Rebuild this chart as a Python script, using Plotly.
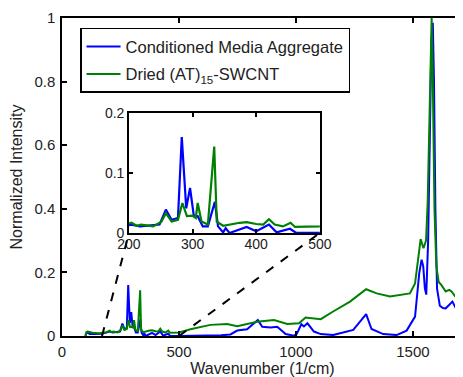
import plotly.graph_objects as go

# ---------------- data ----------------
blue_x = [100, 104, 110, 118, 140, 170, 204, 217, 248, 258, 267, 277, 283, 290, 296, 302, 308, 316,
          324, 335, 340, 348, 352, 358, 385, 400, 420, 432, 453, 463, 500, 600, 680, 720, 749, 791,
          837, 856, 891, 920, 956, 991, 1003, 1023, 1034, 1049, 1077, 1106, 1159, 1245, 1281, 1300,
          1323, 1373, 1430, 1473, 1509, 1527, 1537, 1544, 1551, 1557, 1565, 1572, 1579, 1585, 1590,
          1596, 1603, 1615, 1628, 1640, 1648, 1669, 1685, 1700, 1714]
blue_y = [0.0, 0.008, 0.012, 0.006, 0.006, 0.007, 0.014, 0.011, 0.014, 0.039, 0.022, 0.025, 0.16,
          0.041, 0.075, 0.028, 0.028, 0.011, 0.011, 0.052, 0.011, 0.001, 0.008, 0.0, 0.01, 0.003,
          0.014, 0.001, 0.007, 0.0, 0.0, 0.001, 0.002, 0.005, 0.017, 0.021, 0.05, 0.029, 0.027,
          0.029, 0.006, 0.001, 0.006, 0.037, 0.03, 0.04, 0.014, 0.006, 0.003, 0.019, 0.05, 0.069,
          0.022, 0.006, 0.003, 0.017, 0.061, 0.198, 0.24, 0.22, 0.15, 0.13, 0.3, 0.6, 0.93, 0.985,
          0.8, 0.4, 0.15, 0.095, 0.088, 0.087, 0.093, 0.108, 0.085, 0.072, 0.061]

green_x = [100, 104, 110, 130, 160, 190, 204, 212, 219, 238, 251, 258, 267, 277, 284, 291, 300, 305,
           308, 314, 324, 334, 338, 348, 374, 385, 400, 411, 420, 429, 442, 454, 461, 484, 500, 549,
           634, 706, 749, 834, 906, 963, 1013, 1041, 1106, 1159, 1231, 1300, 1345, 1402, 1487, 1509,
           1522, 1533, 1545, 1556, 1563, 1570, 1577, 1580, 1585, 1592, 1600, 1610, 1622, 1640, 1655,
           1665, 1690, 1714]
green_y = [0.0, 0.012, 0.014, 0.01, 0.009, 0.012, 0.017, 0.012, 0.014, 0.011, 0.019, 0.033, 0.019,
           0.022, 0.05, 0.028, 0.029, 0.025, 0.05, 0.019, 0.014, 0.144, 0.019, 0.012, 0.017, 0.018,
           0.015, 0.014, 0.023, 0.014, 0.011, 0.017, 0.01, 0.01, 0.011, 0.021, 0.035, 0.038, 0.031,
           0.045, 0.05, 0.038, 0.04, 0.058, 0.053, 0.077, 0.108, 0.147, 0.134, 0.124, 0.134, 0.165,
           0.24, 0.305, 0.276, 0.3, 0.42, 0.7, 0.97, 1.0, 0.8, 0.4, 0.22, 0.17, 0.16, 0.14, 0.145,
           0.14, 0.115, 0.098]

series_names = ["Conditioned Media Aggregate", "Dried (AT)<sub>15</sub>-SWCNT"]
main_xticks = [0, 500, 1000, 1500]
main_yticks = [0, 0.2, 0.4, 0.6, 0.8, 1]
inset_xticks = [200, 300, 400, 500]
inset_yticks = [0, 0.1, 0.2]
main_xrange = [0, 1714]
inset_xrange = [200, 500]
inset_yrange = [0, 0.2]
zoom_from = [171, 500]   # wavenumbers on main axis where the dashed lines start

# ---------------- layout geometry ----------------
# page body has an 8px default margin, so the figure is 8px smaller on each side
W, H = 455, 369
ml, mr, mt, mb = 54, 0, 10, 41
inset_dom_x = [0.167, 0.643]
inset_dom_y = [0.324, 0.701]

BLUE = "#0000ff"
GREEN = "#008000"
FONT = "Liberation Sans, Arial, sans-serif"

fig = go.Figure()
fig.add_trace(go.Scatter(x=blue_x, y=blue_y, mode="lines", name=series_names[0],
                         line=dict(color=BLUE, width=2), legendgroup="a"))
fig.add_trace(go.Scatter(x=green_x, y=green_y, mode="lines", name=series_names[1],
                         line=dict(color=GREEN, width=2), legendgroup="b"))
fig.add_trace(go.Scatter(x=blue_x, y=blue_y, mode="lines", showlegend=False,
                         line=dict(color=BLUE, width=2.2), xaxis="x2", yaxis="y2"))
fig.add_trace(go.Scatter(x=green_x, y=green_y, mode="lines", showlegend=False,
                         line=dict(color=GREEN, width=2.2), xaxis="x2", yaxis="y2"))

axis_common = dict(showgrid=False, zeroline=False, showline=True, linecolor="black",
                   linewidth=1.5, ticks="inside", tickcolor="black", tickwidth=1.5,
                   automargin=False)

fig.update_layout(
    width=W, height=H,
    margin=dict(l=ml, r=mr, t=mt, b=mb, autoexpand=False),
    paper_bgcolor="white", plot_bgcolor="white",
    font=dict(family=FONT, size=14, color="#222"),
    xaxis=dict(**axis_common, range=main_xrange, tickvals=main_xticks, ticklen=5,
               mirror="ticks", ticklabelstandoff=1,
               tickfont=dict(family=FONT, size=15, color="#222"),
               title=dict(text="Wavenumber (1/cm)", font=dict(size=16), standoff=0)),
    yaxis=dict(**axis_common, range=[0, 1], tickvals=main_yticks,
               ticktext=["0", "0.2", "0.4", "0.6", "0.8", "1"], ticklen=5, mirror=False,
               ticklabelstandoff=2,
               tickfont=dict(family=FONT, size=15, color="#222"),
               title=dict(text="Normalized Intensity", font=dict(size=16), standoff=12)),
    xaxis2=dict(**axis_common, range=inset_xrange, tickvals=inset_xticks, ticklen=4,
                mirror="ticks", domain=inset_dom_x, anchor="y2", ticklabelstandoff=-3,
                tickfont=dict(family=FONT, size=14, color="#222")),
    yaxis2=dict(**axis_common, range=inset_yrange, tickvals=inset_yticks,
                ticktext=["0", "0.1", "0.2"], ticklen=4,
                mirror="ticks", domain=inset_dom_y, anchor="x2", ticklabelstandoff=0,
                tickfont=dict(family=FONT, size=14, color="#222")),
    legend=dict(x=0.045, y=0.969, xanchor="left", yanchor="top",
                bordercolor="black", borderwidth=1.5, bgcolor="white",
                font=dict(family=FONT, size=16.5, color="#222"),
                tracegroupgap=3, itemwidth=34),
    showlegend=True,
)

# dashed zoom lines from main axis to inset corners
for wn, cx in zip(zoom_from, inset_dom_x):
    fig.add_shape(type="line", xref="paper", yref="paper",
                  x0=(wn - main_xrange[0]) / (main_xrange[1] - main_xrange[0]), y0=0,
                  x1=cx, y1=inset_dom_y[0],
                  line=dict(color="black", width=2, dash="dash"))

fig.write_html("out.html")
